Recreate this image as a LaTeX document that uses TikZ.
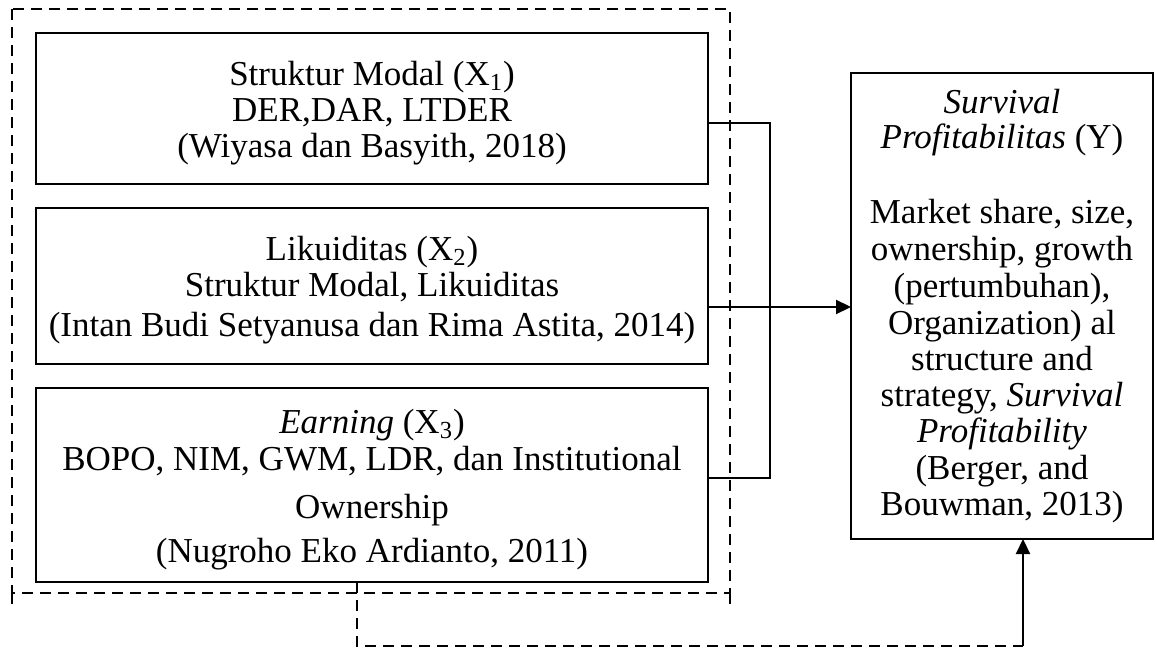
\documentclass[tikz,border=0pt]{standalone}
\usepackage{fontspec}
\setmainfont{Liberation Serif}
\usetikzlibrary{arrows.meta}
\begin{document}
\begin{tikzpicture}[x=0.5pt,y=-0.5pt,
  box/.style={draw, line width=1.1pt, rectangle, inner sep=0pt, outer sep=0pt},
  txt/.style={anchor=base, inner sep=0pt, font=\fontsize{17.5}{18}\selectfont},
  conn/.style={draw, line width=1.1pt},
  arr/.style={-{Triangle[length=7.5pt,width=7pt]}},
  dsh/.style={draw, line width=1.4pt, dash pattern=on 5.5pt off 3.5pt}]
\useasboundingbox (0,0) rectangle (1157,648);
\fill[white] (0,0) rectangle (1157,648);

% outer dashed frame
\coordinate (f1) at (12,9);
\coordinate (f2) at (730,593);
\draw[dsh] (f1) rectangle (f2);
\draw[dsh] (f1 |- f2) -- ++(0,17);
\draw[dsh] (f2) -- ++(0,17);

% boxes
\node[box, minimum width=336pt, minimum height=75.5pt] (b1) at (372,108.5) {};
\node[box, minimum width=336pt, minimum height=78pt] (b2) at (372,286) {};
\node[box, minimum width=336pt, minimum height=97pt] (b3) at (372,485) {};
\node[box, minimum width=151pt, minimum height=233pt] (by) at (1002,306) {};

% box 1 text
\node[txt] (t11) at (372,85) {Struktur Modal (X\textsubscript{1})};
\node[txt] (t12) at (372,121) {DER,DAR, LTDER};
\node[txt] (t13) at (372,157) {(Wiyasa dan Basyith, 2018)};
% box 2 text
\node[txt] (t21) at (372,260) {Likuiditas (X\textsubscript{2})};
\node[txt] (t22) at (372,296) {Struktur Modal, Likuiditas};
\node[txt] (t23) at (372,336) {(Intan Budi Setyanusa dan Rima Astita, 2014)};
% box 3 text
\node[txt] (t31) at (372,433) {\textit{Earning} (X\textsubscript{3})};
\node[txt] (t32) at (372,470) {BOPO, NIM, GWM, LDR, dan Institutional};
\node[txt] (t33) at (372,518) {Ownership};
\node[txt] (t34) at (372,562) {(Nugroho Eko Ardianto, 2011)};
% box Y text
\node[txt] (y1) at (1002,113) {\textit{Survival}};
\node[txt] (y2) at (1002,148) {\textit{Profitabilitas} (Y)};
\node[txt] (y3) at (1002,223) {Market share, size,};
\node[txt] (y4) at (1002,260) {ownership, growth};
\node[txt] (y5) at (1002,297) {(pertumbuhan),};
\node[txt] (y6) at (1002,334) {Organization) al};
\node[txt] (y7) at (1002,370) {structure and};
\node[txt] (y8) at (1002,406) {strategy, \textit{Survival}};
\node[txt] (y9) at (1002,442) {\textit{Profitability}};
\node[txt] (y10) at (1002,479) {(Berger, and};
\node[txt] (y11) at (1002,515) {Bouwman, 2013)};

% connectors
\coordinate (j1) at (770,123);
\coordinate (j3) at (770,478);
\draw[conn] (b1.east |- j1) -- (j1) -- (j3) -- (b3.east |- j3);
\coordinate (a2) at (708,307);
\draw[conn, arr] (b2.east |- a2) -- (by.west |- a2);

\coordinate (d1) at (357,646);
\coordinate (d2) at (1023,646);
\draw[dsh] (b3.south -| d1) -- (d1) -- (d2);
\draw[conn, arr] (d2) -- (by.south -| d2);
\end{tikzpicture}
\end{document}
